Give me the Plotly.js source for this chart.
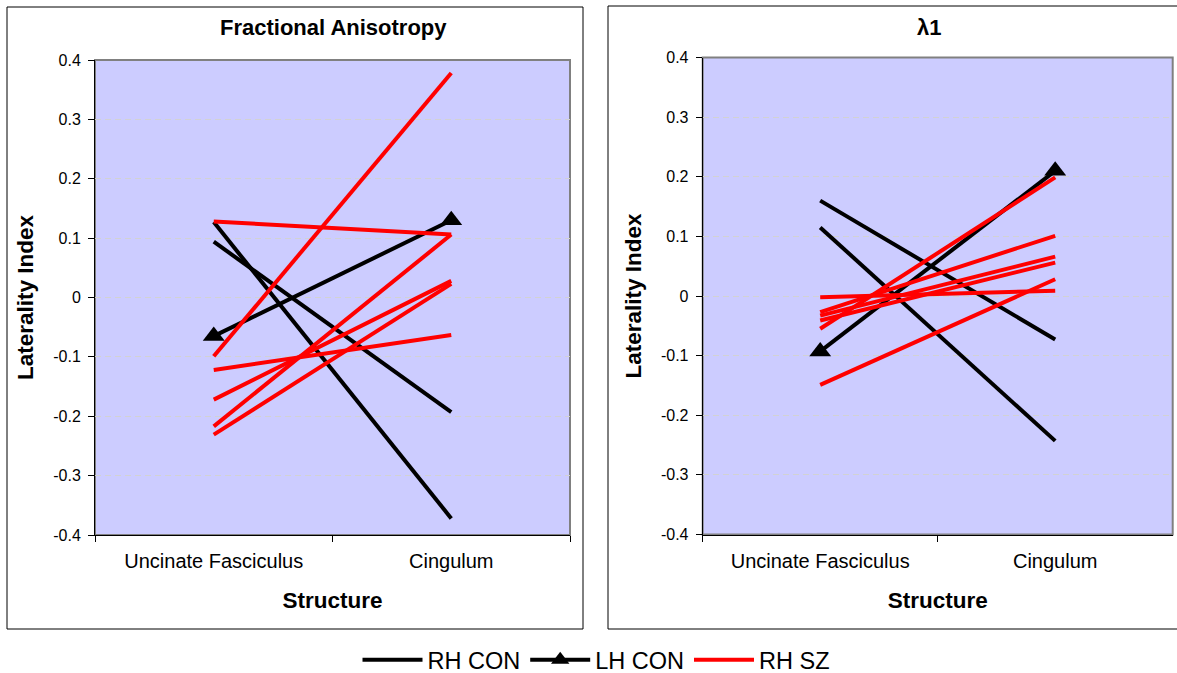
<!DOCTYPE html>
<html>
<head>
<meta charset="utf-8">
<script src="https://cdn.plot.ly/plotly-3.0.1.min.js"></script>
<style>
  html, body { margin: 0; padding: 0; background: #ffffff; width: 1177px; height: 673px; overflow: hidden; }
  #chart { position: absolute; left: 0; top: 0; width: 1177px; height: 673px; overflow: hidden; }
</style>
</head>
<body>
<div id="chart"></div>
<script>
// ---- data ----
const categories = ["Uncinate Fasciculus", "Cingulum"];
const yTickVals = [-0.4, -0.3, -0.2, -0.1, 0, 0.1, 0.2, 0.3, 0.4];
const yTickText = ["-0.4", "-0.3", "-0.2", "-0.1", "0", "0.1", "0.2", "0.3", "0.4"];
const seriesNames = ["RH CON", "LH CON", "RH SZ"];
const chartTitles = ["Fractional Anisotropy", "λ1"];
const xTitle = "Structure";
const yTitle = "Laterality Index";

// Fractional Anisotropy: each pair = [Uncinate Fasciculus, Cingulum]
const faRhCon = [[0.127, -0.372], [0.094, -0.193]];
const faLhCon = [[-0.065, 0.130]];
const faRhSz = [[-0.099, 0.378], [0.128, 0.106], [-0.217, 0.106], [-0.172, 0.028], [-0.231, 0.023], [-0.122, -0.063]];

// λ1
const l1RhCon = [[0.160, -0.073], [0.115, -0.243]];
const l1LhCon = [[-0.093, 0.210]];
const l1RhSz = [[-0.055, 0.199], [-0.002, 0.009], [-0.149, 0.028], [-0.027, 0.101], [-0.033, 0.066], [-0.041, 0.056]];

// ---- styling ----
const FONT = "Liberation Sans, Arial, sans-serif";
const BLACK = "#000000";
const RED = "#ff0000";
const W = 1177, H = 673;
const MB = 100;               // bottom margin reserved so the legend never pushes margins
const PH = H - MB;            // paper (inner) height
const px = v => v / W;
const py = v => 1 - v / PH;   // page pixel row -> paper fraction

function makeTraces(rhCon, lhCon, rhSz, xa, ya, legendOn) {
  const out = [];
  rhCon.forEach((vals, i) => out.push({
    type: "scatter", mode: "lines", x: categories, y: vals, xaxis: xa, yaxis: ya,
    name: seriesNames[0], showlegend: legendOn && i === 0,
    line: { color: BLACK, width: 4 }, hoverinfo: "y+name"
  }));
  lhCon.forEach((vals, i) => out.push({
    type: "scatter", mode: "lines+markers", x: categories, y: vals, xaxis: xa, yaxis: ya,
    name: seriesNames[1], showlegend: legendOn && i === 0,
    line: { color: BLACK, width: 4 },
    marker: { symbol: "triangle-up", size: 19, color: BLACK, line: { width: 0 } },
    hoverinfo: "y+name"
  }));
  rhSz.forEach((vals, i) => out.push({
    type: "scatter", mode: "lines", x: categories, y: vals, xaxis: xa, yaxis: ya,
    name: seriesNames[2], showlegend: legendOn && i === 0,
    line: { color: RED, width: 4 }, hoverinfo: "y+name"
  }));
  return out;
}

const data = [
  ...makeTraces(faRhCon, faLhCon, faRhSz, "x", "y", true),
  ...makeTraces(l1RhCon, l1LhCon, l1RhSz, "x2", "y2", false)
];

function xAxis(domain, anchor) {
  return {
    domain: domain, anchor: anchor, type: "category",
    range: [-0.5, 1.5], tickson: "boundaries",
    ticks: "outside", ticklen: 6, tickcolor: BLACK, tickwidth: 1,
    showline: true, linecolor: BLACK, linewidth: 1,
    showgrid: false, zeroline: false,
    ticklabelstandoff: 8,
    tickfont: { family: FONT, size: 20, color: BLACK },
    title: { text: xTitle, font: { family: FONT, size: 22.5, color: BLACK, weight: "bold" }, standoff: 21 },
    automargin: false, fixedrange: true
  };
}
function yAxis(domain, anchor) {
  return {
    domain: domain, anchor: anchor, range: [-0.4, 0.4],
    tickvals: yTickVals, ticktext: yTickText,
    ticks: "outside", ticklen: 6, tickcolor: BLACK, tickwidth: 1,
    showline: true, linecolor: BLACK, linewidth: 1,
    showgrid: true, gridcolor: "#d2d2d2", griddash: "6px,4px", gridwidth: 1,
    zeroline: false,
    ticklabelstandoff: 4,
    tickfont: { family: FONT, size: 16, color: BLACK },
    title: { text: yTitle, font: { family: FONT, size: 22.5, color: BLACK, weight: "bold" }, standoff: 13 },
    automargin: false, fixedrange: true
  };
}

const layout = {
  width: W, height: H,
  margin: { l: 0, r: 0, t: 0, b: MB, pad: 0, autoexpand: false },
  paper_bgcolor: "#ffffff",
  plot_bgcolor: "#ccccff",
  showlegend: true,
  font: { family: FONT, color: BLACK },
  xaxis: xAxis([px(95), px(570)], "y"),
  yaxis: yAxis([py(535), py(60)], "x"),
  xaxis2: xAxis([px(702.7), px(1172.7)], "y2"),
  yaxis2: yAxis([py(534.5), py(57.5)], "x2"),
  legend: {
    orientation: "h", x: px(596), xanchor: "center", y: py(660), yanchor: "middle",
    font: { family: FONT, size: 23.5, color: BLACK },
    itemwidth: 60, bgcolor: "rgba(0,0,0,0)", borderwidth: 0,
    traceorder: "normal"
  },
  annotations: [
    { text: chartTitles[0], xref: "paper", yref: "paper", x: px(333), y: py(28),
      xanchor: "center", yanchor: "middle", showarrow: false,
      font: { family: FONT, size: 22, color: BLACK, weight: "bold" } },
    { text: chartTitles[1], xref: "paper", yref: "paper", x: px(929), y: py(28),
      xanchor: "center", yanchor: "middle", showarrow: false,
      font: { family: FONT, size: 22, color: BLACK, weight: "bold" } }
  ],
  shapes: [
    // chart frames
    { type: "rect", xref: "paper", yref: "paper", x0: px(7), x1: px(583), y0: py(629), y1: py(7),
      line: { color: BLACK, width: 1 }, fillcolor: "rgba(0,0,0,0)", layer: "below" },
    { type: "rect", xref: "paper", yref: "paper", x0: px(608), x1: px(1180), y0: py(629), y1: py(6),
      line: { color: BLACK, width: 1 }, fillcolor: "rgba(0,0,0,0)", layer: "below" },
    // plot area borders
    { type: "rect", xref: "x domain", yref: "y domain", x0: 0, x1: 1, y0: 0, y1: 1,
      line: { color: "#808080", width: 2 }, fillcolor: "rgba(0,0,0,0)", layer: "below" },
    { type: "rect", xref: "x2 domain", yref: "y2 domain", x0: 0, x1: 1, y0: 0, y1: 1,
      line: { color: "#808080", width: 2 }, fillcolor: "rgba(0,0,0,0)", layer: "below" }
  ]
};

Plotly.newPlot("chart", data, layout, { staticPlot: true, displayModeBar: false });
</script>
</body>
</html>
